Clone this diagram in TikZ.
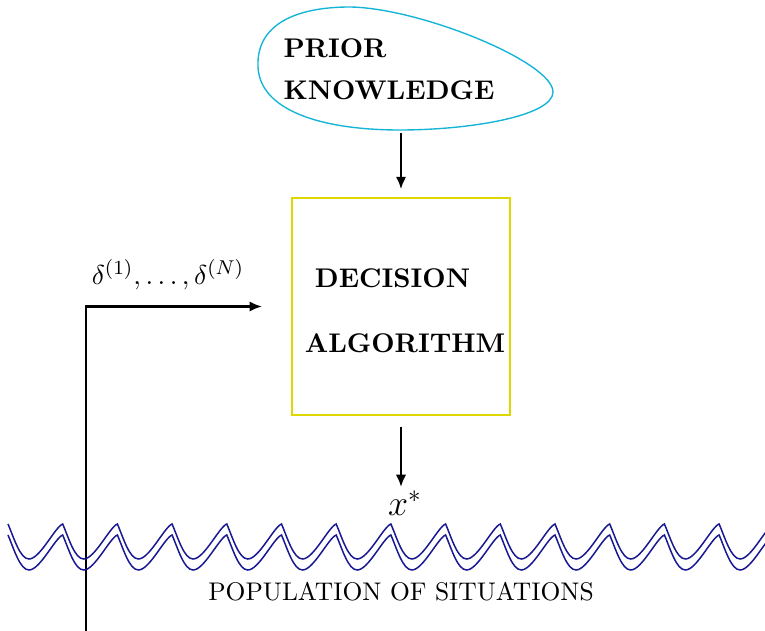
\documentclass[tikz,border=0pt]{standalone}
\usepackage{fontspec}
\usetikzlibrary{arrows.meta}
\definecolor{blobcyan}{RGB}{20,180,215}
\definecolor{boxyellow}{RGB}{222,215,0}
\definecolor{wavenavy}{RGB}{25,25,145}
\tikzset{
  conn/.style={line width=1.05pt,-{Latex[length=5pt,width=4.2pt]}},
  boldlabel/.style={inner sep=0pt,font=\fontsize{10.8}{16.8}\selectfont\bfseries},
  wavy/.style={draw=wavenavy,line width=0.6pt,line join=miter},
}
\begin{document}
\begin{tikzpicture}[x=0.4pt,y=-0.4pt]
\useasboundingbox (0,0) rectangle (765,631);
% prior knowledge blob
\draw[blobcyan,line width=0.55pt] (258,67) .. controls (256,22) and (300,7) .. (350,7)
  .. controls (420,8) and (553,62) .. (553,92)
  .. controls (553,116) and (470,130) .. (400,130)
  .. controls (320,130) and (260,110) .. (258,67) -- cycle;
\node[boldlabel,anchor=north west,align=left] (prior) at (283,38) {PRIOR\\KNOWLEDGE};
\coordinate (blobbottom) at (401,133);
% decision box
\node[draw=boxyellow,line width=0.55pt,minimum width=87.2pt,minimum height=86.8pt,inner sep=0pt] (box) at (401,306.5) {};
\node[boldlabel] (dec) at (392.5,278) {DECISION};
\node[boldlabel] (alg) at (405,343) {ALGORITHM};
\draw[conn,shorten >=3.2pt] (blobbottom) -- (box.north);
% output
\node[inner sep=0pt,font=\fontsize{14.4}{16}\selectfont] (xstar) at (405,503) {$x^*$};
\draw[conn,shorten <=4.4pt,shorten >=1.2pt] (box.south) -- (xstar.north -| box.south);
% feedback
\node[inner sep=0pt,font=\fontsize{10.95}{13}\selectfont] (delta) at (168,275) {$\delta^{(1)},\ldots,\delta^{(N)}$};
\coordinate (fstart) at (86,640);
\coordinate (fend) at (262,306.5);
\draw[conn] (fstart) |- (fend);
% population waves
\begin{scope}
\clip (0,0) rectangle (765,631);
\foreach \dy in {0,11}{
  \draw[wavy] (8,524+\dy) \foreach \k in {0,...,13}{
    .. controls ({8+54.7*\k+6},{538+\dy}) and ({8+54.7*\k+12},{559+\dy}) .. ({8+54.7*\k+21},{559+\dy})
    .. controls ({8+54.7*\k+32},{559+\dy}) and ({8+54.7*\k+47},{527+\dy}) .. ({8+54.7*\k+54.7},{524+\dy})
  };
}
\end{scope}
\node[inner sep=0pt,font=\fontsize{10.2}{12}\selectfont] (pop) at (401,592) {POPULATION OF SITUATIONS};
\end{tikzpicture}
\end{document}
